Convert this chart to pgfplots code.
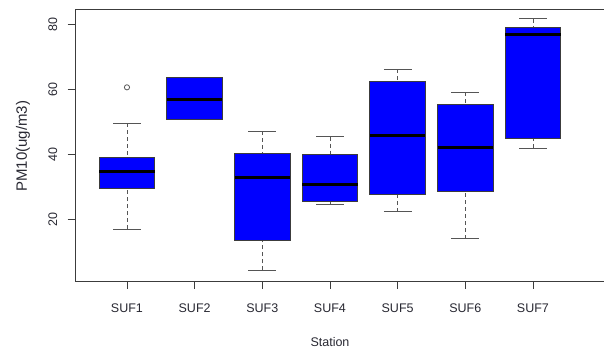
\documentclass[border=0pt]{standalone}
\usepackage{fontspec}
\setmainfont{Liberation Sans}
\usepackage{pgfplots}
\pgfplotsset{compat=1.18}
\usepgfplotslibrary{statistics}
\definecolor{txt}{RGB}{40,40,50}
\definecolor{framec}{RGB}{60,60,60}
\definecolor{whisk}{RGB}{85,85,85}
\pgfplotsset{
  boxplot/draw direction=y,
  boxplot/draw/box/.code={%
    \draw[fill=blue, draw=framec, line width=0.8pt]
      (boxplot box cs:\pgfplotsboxplotvalue{lower quartile},0) rectangle
      (boxplot box cs:\pgfplotsboxplotvalue{upper quartile},1);},
  boxplot/draw/median/.code={%
    \draw[black, line width=3pt]
      (boxplot box cs:\pgfplotsboxplotvalue{median},0) --
      (boxplot box cs:\pgfplotsboxplotvalue{median},1);},
  boxplot/draw/lower whisker/.code={%
    \draw[whisk, line width=0.8pt, dash pattern=on 4pt off 3pt]
      (boxplot box cs:\pgfplotsboxplotvalue{lower whisker},0.5) --
      (boxplot box cs:\pgfplotsboxplotvalue{lower quartile},0.5);
    \draw[whisk, line width=0.8pt]
      (boxplot whisker cs:\pgfplotsboxplotvalue{lower whisker},0) --
      (boxplot whisker cs:\pgfplotsboxplotvalue{lower whisker},1);},
  boxplot/draw/upper whisker/.code={%
    \draw[whisk, line width=0.8pt, dash pattern=on 4pt off 3pt]
      (boxplot box cs:\pgfplotsboxplotvalue{upper whisker},0.5) --
      (boxplot box cs:\pgfplotsboxplotvalue{upper quartile},0.5);
    \draw[whisk, line width=0.8pt]
      (boxplot whisker cs:\pgfplotsboxplotvalue{upper whisker},0) --
      (boxplot whisker cs:\pgfplotsboxplotvalue{upper whisker},1);},
  boxplot/box extend=0.82,
  boxplot/whisker extend=0.41,
}
\begin{document}
\begin{tikzpicture}
\path[use as bounding box] (0,0) rectangle (604pt,354pt);
\begin{axis}[
  at={(75pt,73pt)}, anchor=south west,
  scale only axis, width=529pt, height=272pt,
  xmin=0.232, xmax=8.05, ymin=1.0, ymax=84.7,
  axis x line=box, axis y line=left,
  axis line style={framec, line width=0.9pt, -},
  xtick={1,2,3,4,5,6,7},
  xticklabels={SUF1,SUF2,SUF3,SUF4,SUF5,SUF6,SUF7},
  ytick={20,40,60,80},
  xtick pos=left, ytick pos=left, tick align=outside,
  major tick length=7.5pt,
  every tick/.style={framec, line width=0.9pt},
  /pgf/number format/assume math mode=true,
  tick label style={text=txt},
  xticklabel style={font=\fontsize{12.5}{14}\selectfont, anchor=base, yshift=-23.5pt},
  yticklabel style={font=\fontsize{12.5}{14}\selectfont, xshift=-10.3pt, rotate=90, anchor=base},
  xlabel={Station}, ylabel={PM10(ug/m3)},
  every axis x label/.style={at={(axis description cs:0.482,0)}, anchor=base, yshift=-65.5pt, font=\fontsize{12.5}{14}\selectfont, text=txt},
  every axis y label/.style={at={(axis description cs:0,0.495)}, xshift=-48pt, rotate=90, anchor=base, font=\fontsize{15}{17}\selectfont, text=txt},
]
\addplot[mark=o, mark size=2.6pt, mark options={whisk, line width=0.8pt, solid},
  boxplot prepared={draw position=1, lower whisker=17.0, lower quartile=29.4, median=34.7, upper quartile=39.1, upper whisker=49.6}]
  coordinates {(0,60.6)};
\addplot[mark=none, boxplot prepared={draw position=2, lower whisker=50.8, lower quartile=50.8, median=57.0, upper quartile=63.7, upper whisker=63.7}]
  coordinates {};
\addplot[mark=none, boxplot prepared={draw position=3, lower whisker=4.3, lower quartile=13.6, median=32.7, upper quartile=40.2, upper whisker=47.1}]
  coordinates {};
\addplot[mark=none, boxplot prepared={draw position=4, lower whisker=24.7, lower quartile=25.5, median=30.6, upper quartile=39.9, upper whisker=45.4}]
  coordinates {};
\addplot[mark=none, boxplot prepared={draw position=5, lower whisker=22.3, lower quartile=27.8, median=45.7, upper quartile=62.5, upper whisker=66.1}]
  coordinates {};
\addplot[mark=none, boxplot prepared={draw position=6, lower whisker=14.0, lower quartile=28.6, median=42.2, upper quartile=55.4, upper whisker=59.1}]
  coordinates {};
\addplot[mark=none, boxplot prepared={draw position=7, lower whisker=41.9, lower quartile=45.0, median=77.0, upper quartile=78.9, upper whisker=81.7}]
  coordinates {};
\end{axis}
\end{tikzpicture}
\end{document}
